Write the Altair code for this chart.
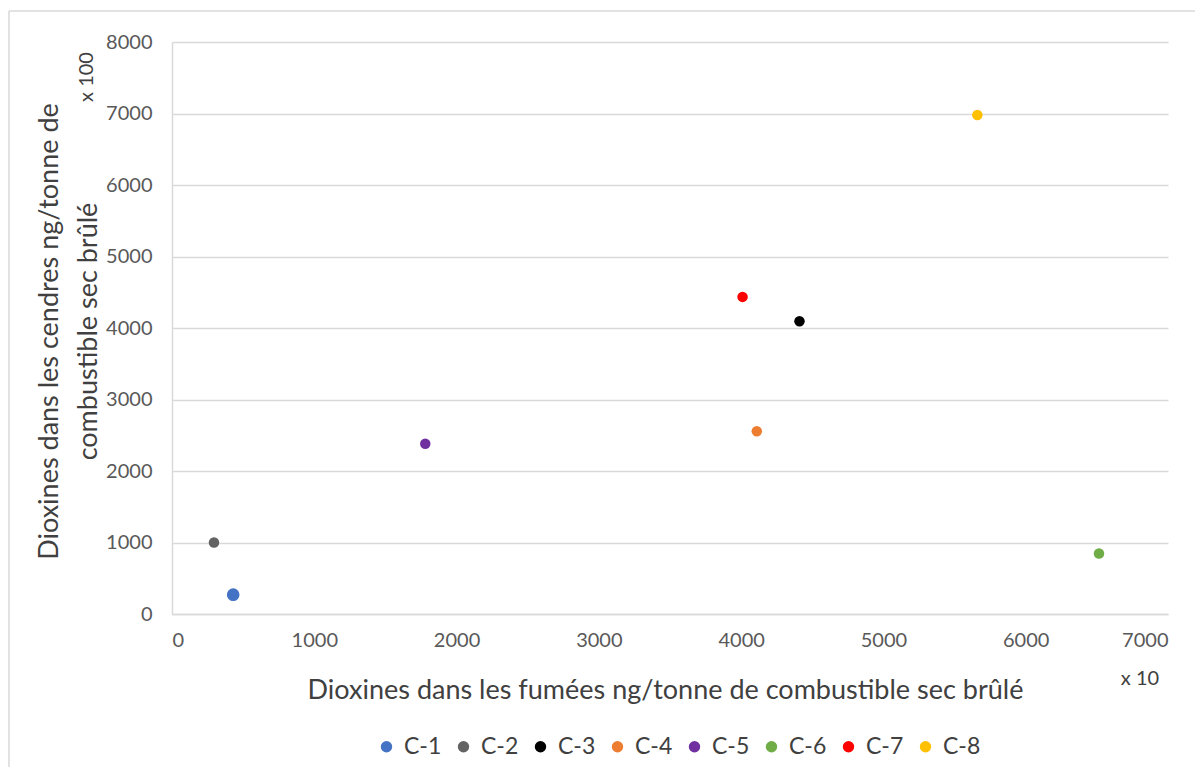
import altair as alt
import pandas as pd

series = ["C-1", "C-2", "C-3", "C-4", "C-5", "C-6", "C-7", "C-8"]
fumees = [430, 295, 4410, 4110, 1780, 6515, 4010, 5660]
cendres = [270, 1000, 4095, 2555, 2380, 845, 4435, 6980]
colors = ["#4472C4", "#636363", "#000000", "#ED7D31", "#7030A0", "#70AD47", "#FF0000", "#FFC000"]
x_ticks = [0, 1000, 2000, 3000, 4000, 5000, 6000, 7000]
y_ticks = [0, 1000, 2000, 3000, 4000, 5000, 6000, 7000, 8000]

df = pd.DataFrame({"serie": series, "fumees": fumees, "cendres": cendres})

W, H = 996, 572
FONT = "Lato"

points = alt.Chart(df).mark_circle(opacity=1).encode(
    x=alt.X(
        "fumees:Q",
        scale=alt.Scale(domain=[0, 7000], nice=False),
        axis=alt.Axis(
            values=x_ticks, format="d", grid=False, labelPadding=16,
            title="Dioxines dans les fumées ng/tonne de combustible sec brûlé",
            titleY=76, titleBaseline="middle", titleX=493,
        ),
    ),
    y=alt.Y(
        "cendres:Q",
        scale=alt.Scale(domain=[0, 8000], nice=False),
        axis=alt.Axis(
            values=y_ticks, format="d", grid=True, labelPadding=20,
            title=["Dioxines dans les cendres ng/tonne de", "combustible sec brûlé"],
            titleX=-115, titleY=289, titleAngle=-90, titleAlign="center",
            titleBaseline="alphabetic", titleLineHeight=39,
        ),
    ),
    color=alt.Color(
        "serie:N",
        scale=alt.Scale(domain=series, range=colors),
        legend=alt.Legend(
            orient="none", legendX=203, legendY=693, direction="horizontal",
            columns=8, title=None, symbolType="circle", symbolSize=130,
            labelFontSize=23, labelFont=FONT, labelColor="#404040",
            labelOffset=6, columnPadding=10, padding=0, symbolStrokeWidth=0,
        ),
    ),
    size=alt.condition(alt.datum.serie == "C-1", alt.value(160), alt.value(110)),
)

ann = pd.DataFrame({"t": ["x 100"]})
x100 = alt.Chart(ann).mark_text(
    angle=270, align="center", baseline="middle", font=FONT, fontSize=20, color="#404040"
).encode(x=alt.value(-85), y=alt.value(35), text="t:N")

ann2 = pd.DataFrame({"t": ["x 10"]})
x10 = alt.Chart(ann2).mark_text(
    align="center", baseline="middle", font=FONT, fontSize=20, color="#404040"
).encode(x=alt.value(968), y=alt.value(637), text="t:N")

frame_df = pd.DataFrame({"a": [0]})
frame_left = alt.Chart(frame_df).mark_rule(color="#d9d9d9", strokeWidth=1.5).encode(
    x=alt.value(-163), y=alt.value(-31), y2=alt.value(730)
)
frame_top = alt.Chart(frame_df).mark_rule(color="#d9d9d9", strokeWidth=1.5).encode(
    x=alt.value(-163), x2=alt.value(1030), y=alt.value(-31)
)

chart = alt.layer(frame_left, frame_top, points, x100, x10).properties(
    width=W, height=H,
    autosize=alt.AutoSizeParams(type="none"),
    padding={"left": 164, "top": 34, "right": 27, "bottom": 153},
    background="white",
).configure_view(stroke=None).configure_axis(
    domainColor="#d9d9d9", domainWidth=1.5, ticks=False,
    gridColor="#d9d9d9", gridWidth=1.5,
    labelFont=FONT, labelFontSize=20, labelColor="#595959",
    titleFont=FONT, titleFontSize=27, titleColor="#404040", titleFontWeight="normal",
)

chart.save("out.html", embed_options={"renderer": "svg", "actions": False})
